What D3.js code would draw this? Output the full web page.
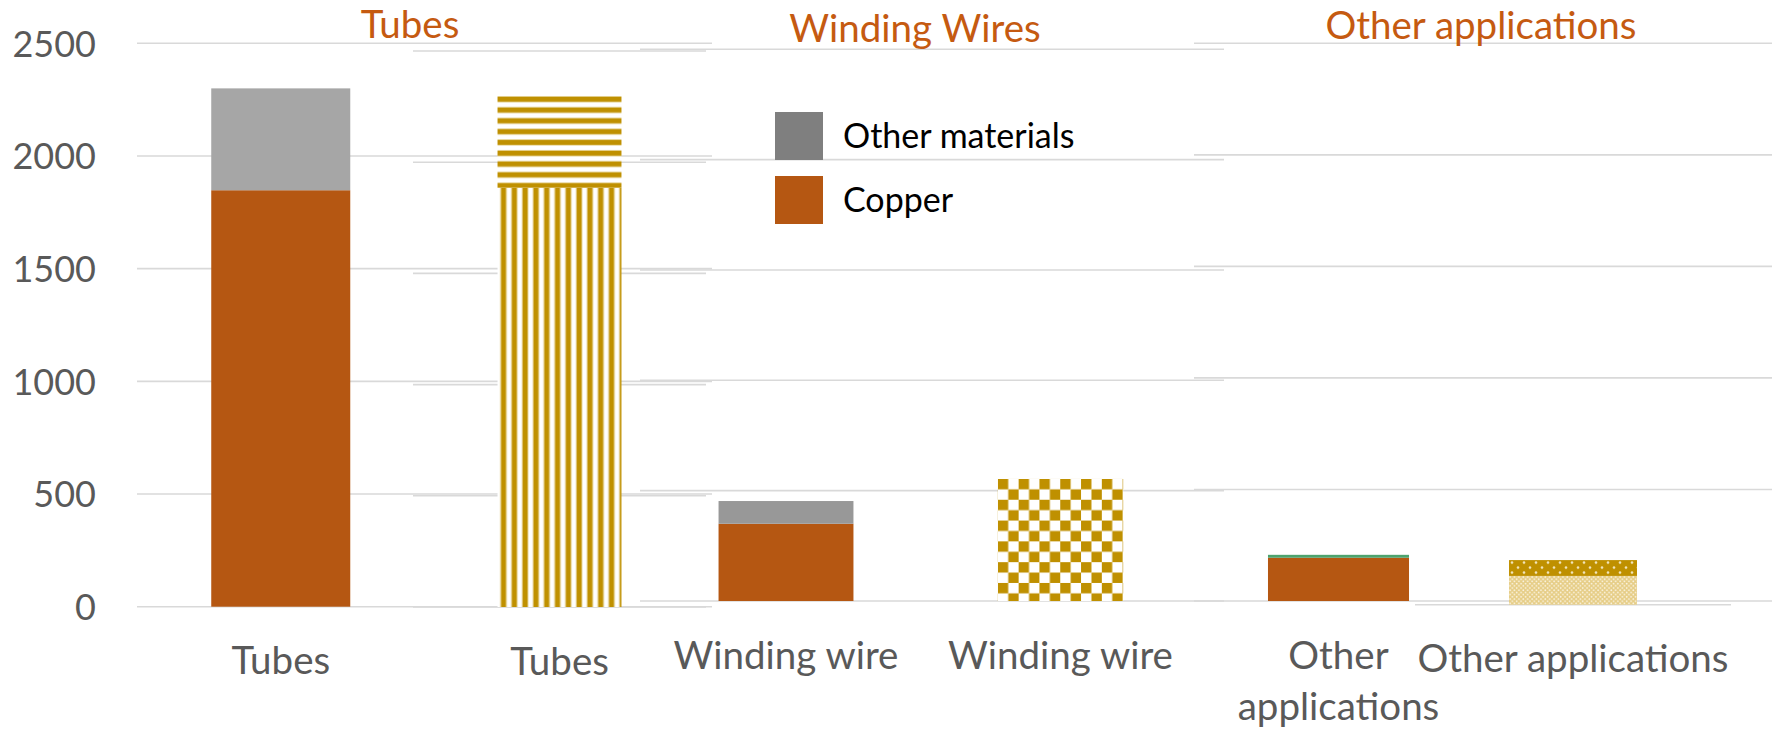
<!DOCTYPE html>
<html>
<head>
<meta charset="utf-8">
<script src="https://cdn.jsdelivr.net/npm/d3@7"></script>
<style>
  html, body { margin: 0; padding: 0; background: #ffffff; }
  svg { display: block; font-family: Lato, "Open Sans", sans-serif; }
</style>
</head>
<body>
<svg id="chart" width="1777" height="729"></svg>
<script>
// ---------------- DATA ----------------
const categories = ["Tubes", "Tubes", "Winding wire", "Winding wire", "Other applications", "Other applications"];
const panelTitles = ["Tubes", "Winding Wires", "Other applications"];
const legendLabels = ["Other materials", "Copper"];
const yTicks = [0, 500, 1000, 1500, 2000, 2500];

// solid (coloured) bars
const copperValues        = [1848, 0, 350, 0, 194, 0];
const otherMaterialValues = [452,  0, 103, 0, 0,   0];
const otherGreenValues    = [0,    0, 0,   0, 13,  0];
// patterned (gold) bars
const patternLowerValues  = [0, 1885, 0, 553, 0, 129];
const patternUpperValues  = [0, 413,  0, 0,   0, 71];

// ---------------- LAYOUT / STYLE ----------------
const W = 1777, H = 729;
const COPPER = "#B55712", GOLD = "#BF9000", GRID = "#D9D9D9";
const AXIS_TXT = "#595959", TITLE_TXT = "#C55A11";
const otherColors = ["#A6A6A6", null, "#989898", null, null, null];
const lowerPatternType = [null, "vstripe", null, "checker", null, "lightdots"];
const upperPatternType = [null, "hstripe", null, null, null, "darkdots"];

// each overlaid mini chart: its own band scale and y scale
const panels = [
  {bar: 0, slots: 2, range: [137, 712],  y0: 606.7, yTop: 43.3, grid: "full", pad: 0.5165, yAxis: true, wrap: 400},
  {bar: 1, slots: 1, range: [413, 706],  y0: 607,   yTop: 51,   grid: "full", pad: 0.577,  wrap: 400},
  {bar: 2, slots: 2, range: [640, 1224], y0: 601,   yTop: 49.3, grid: "full", pad: 0.538,  wrap: 400},
  {bar: 3, slots: 1, range: [940, 1181], y0: 601,   yTop: 49.3, grid: "none", pad: 0.48,   wrap: 400},
  {bar: 4, slots: 2, range: [1194, 1772],y0: 601,   yTop: 43.3, grid: "full", pad: 0.512,  wrap: 289},
  {bar: 5, slots: 1, range: [1415, 1731],y0: 604.7, yTop: 47.0, grid: "base", pad: 0.595,  wrap: 400}
];
const titlePos = [{x: 410, y: 38}, {x: 915, y: 41.5}, {x: 1481, y: 38.5}];

const svg = d3.select("#chart");
svg.append("rect").attr("width", W).attr("height", H).attr("fill", "#fff");
const defs = svg.append("defs");

function makePattern(id, type, x, y) {
  const p = defs.append("pattern").attr("id", id).attr("patternUnits", "userSpaceOnUse")
    .attr("x", x).attr("y", y);
  if (type === "vstripe") {
    p.attr("width", 10.8).attr("height", 10);
    p.append("rect").attr("width", 10.8).attr("height", 10).attr("fill", "#fff");
    p.append("rect").attr("x", 2.6).attr("width", 6.8).attr("height", 10).attr("fill", "#E9D9A2");
    p.append("rect").attr("x", 3.6).attr("width", 4.8).attr("height", 10).attr("fill", GOLD);
  } else if (type === "hstripe") {
    p.attr("width", 10).attr("height", 10.8);
    p.append("rect").attr("width", 10).attr("height", 10.8).attr("fill", "#fff");
    p.append("rect").attr("y", 0).attr("width", 10).attr("height", 6.6).attr("fill", "#E9D9A2");
    p.append("rect").attr("y", 0.9).attr("width", 10).attr("height", 4.8).attr("fill", GOLD);
  } else if (type === "checker") {
    const c = 10.4;
    p.attr("width", 2 * c).attr("height", 2 * c);
    p.append("rect").attr("width", 2 * c).attr("height", 2 * c).attr("fill", "#fff");
    p.append("rect").attr("width", c).attr("height", c).attr("fill", GOLD);
    p.append("rect").attr("x", c).attr("y", c).attr("width", c).attr("height", c).attr("fill", GOLD);
  } else if (type === "darkdots") {
    p.attr("width", 12).attr("height", 10);
    p.append("rect").attr("width", 12).attr("height", 10).attr("fill", GOLD);
    p.append("circle").attr("cx", 3).attr("cy", 2.5).attr("r", 1.3).attr("fill", "#F3E6C0");
    p.append("circle").attr("cx", 9).attr("cy", 7.5).attr("r", 1.3).attr("fill", "#F3E6C0");
  } else if (type === "lightdots") {
    p.attr("width", 4.4).attr("height", 4.4);
    p.append("rect").attr("width", 4.4).attr("height", 4.4).attr("fill", "#E6CD86");
    p.append("circle").attr("cx", 1.1).attr("cy", 1.1).attr("r", 0.9).attr("fill", "#FBF5E4");
    p.append("circle").attr("cx", 3.3).attr("cy", 3.3).attr("r", 0.9).attr("fill", "#FBF5E4");
  }
  return "url(#" + id + ")";
}

function wrapText(textSel, width, lineH) {
  textSel.each(function () {
    const t = d3.select(this);
    const words = t.text().split(/\s+/).filter(w => w.length);
    const x = t.attr("x") || 0, y = t.attr("y");
    t.text(null);
    let line = [], tspan = t.append("tspan").attr("x", x).attr("y", y), lineNo = 0;
    words.forEach(w => {
      line.push(w);
      tspan.text(line.join(" "));
      if (tspan.node().getComputedTextLength() > width && line.length > 1) {
        line.pop();
        tspan.text(line.join(" "));
        line = [w];
        lineNo++;
        tspan = t.append("tspan").attr("x", x).attr("y", +y + lineNo * lineH).text(w);
      }
    });
  });
}

panels.forEach((pn, k) => {
  const i = pn.bar;
  const domain = pn.slots === 2 ? [categories[i], " "] : [categories[i]];
  const x = d3.scaleBand().domain(domain).range(pn.range)
    .paddingInner(pn.pad).paddingOuter(pn.pad / 2);
  const y = d3.scaleLinear().domain([0, 2500]).range([pn.y0, pn.yTop]);
  const g = svg.append("g").attr("class", "panel" + k);

  // gridlines
  const gridVals = pn.grid === "full" ? yTicks : (pn.grid === "base" ? [0] : []);
  g.selectAll("line.grid").data(gridVals).join("line")
    .attr("x1", pn.range[0]).attr("x2", pn.range[1])
    .attr("y1", d => y(d)).attr("y2", d => y(d))
    .attr("stroke", GRID).attr("stroke-width", 1.6);

  const bx = x(categories[i]), bw = x.bandwidth();
  // solid stacks
  if (copperValues[i] > 0) {
    g.append("rect").attr("x", bx).attr("width", bw)
      .attr("y", y(copperValues[i])).attr("height", y(0) - y(copperValues[i])).attr("fill", COPPER);
  }
  if (otherMaterialValues[i] > 0) {
    const b = copperValues[i], t = b + otherMaterialValues[i];
    g.append("rect").attr("x", bx).attr("width", bw)
      .attr("y", y(t)).attr("height", y(b) - y(t)).attr("fill", otherColors[i]);
  }
  if (otherGreenValues[i] > 0) {
    const b = copperValues[i], t = b + otherGreenValues[i];
    g.append("rect").attr("x", bx).attr("width", bw)
      .attr("y", y(t)).attr("height", y(b) - y(t)).attr("fill", "#4CA36E");
  }
  // patterned stacks
  if (patternLowerValues[i] > 0) {
    const t = patternLowerValues[i];
    const fill = makePattern("pl" + i, lowerPatternType[i], bx, y(t));
    g.append("rect").attr("x", bx).attr("width", bw)
      .attr("y", y(t)).attr("height", y(0) - y(t)).attr("fill", fill);
  }
  if (patternUpperValues[i] > 0) {
    const b = patternLowerValues[i], t = b + patternUpperValues[i];
    const fill = makePattern("pu" + i, upperPatternType[i], bx, y(t));
    g.append("rect").attr("x", bx).attr("width", bw)
      .attr("y", y(t)).attr("height", y(b) - y(t)).attr("fill", fill);
  }

  // category axis
  const xa = g.append("g").attr("transform", `translate(0,${pn.y0})`)
    .call(d3.axisBottom(x).tickSize(0).tickPadding(0));
  xa.select(".domain").remove();
  xa.selectAll("text")
    .attr("y", 67.5).attr("dy", null)
    .attr("font-family", "Lato, sans-serif").attr("font-size", 38.5)
    .attr("fill", AXIS_TXT)
    .call(wrapText, pn.wrap, 51);

  // value axis (only first chart shows it)
  if (pn.yAxis) {
    const ya = g.append("g").attr("transform", `translate(${pn.range[0]},0)`)
      .call(d3.axisLeft(y).tickValues(yTicks).tickFormat(d3.format("d")).tickSize(0).tickPadding(41));
    ya.select(".domain").remove();
    ya.selectAll("text").attr("font-family", "Lato, sans-serif")
      .attr("font-size", 36).attr("fill", AXIS_TXT).attr("dy", "0.36em");
  }
});

// titles
svg.selectAll("text.ptitle").data(panelTitles).join("text")
  .attr("class", "ptitle")
  .attr("x", (d, i) => titlePos[i].x).attr("y", (d, i) => titlePos[i].y)
  .attr("text-anchor", "middle").attr("font-size", 38.5).attr("fill", TITLE_TXT)
  .text(d => d);

// legend
const legColors = ["#7F7F7F", COPPER];
const leg = svg.append("g").attr("class", "legend");
legendLabels.forEach((lab, i) => {
  const yy = 112 + i * 64;
  leg.append("rect").attr("x", 775).attr("y", yy).attr("width", 48).attr("height", 48).attr("fill", legColors[i]);
  leg.append("text").attr("x", 843).attr("y", yy + 36).attr("font-size", 34).attr("fill", "#000").text(lab);
});
</script>
</body>
</html>
